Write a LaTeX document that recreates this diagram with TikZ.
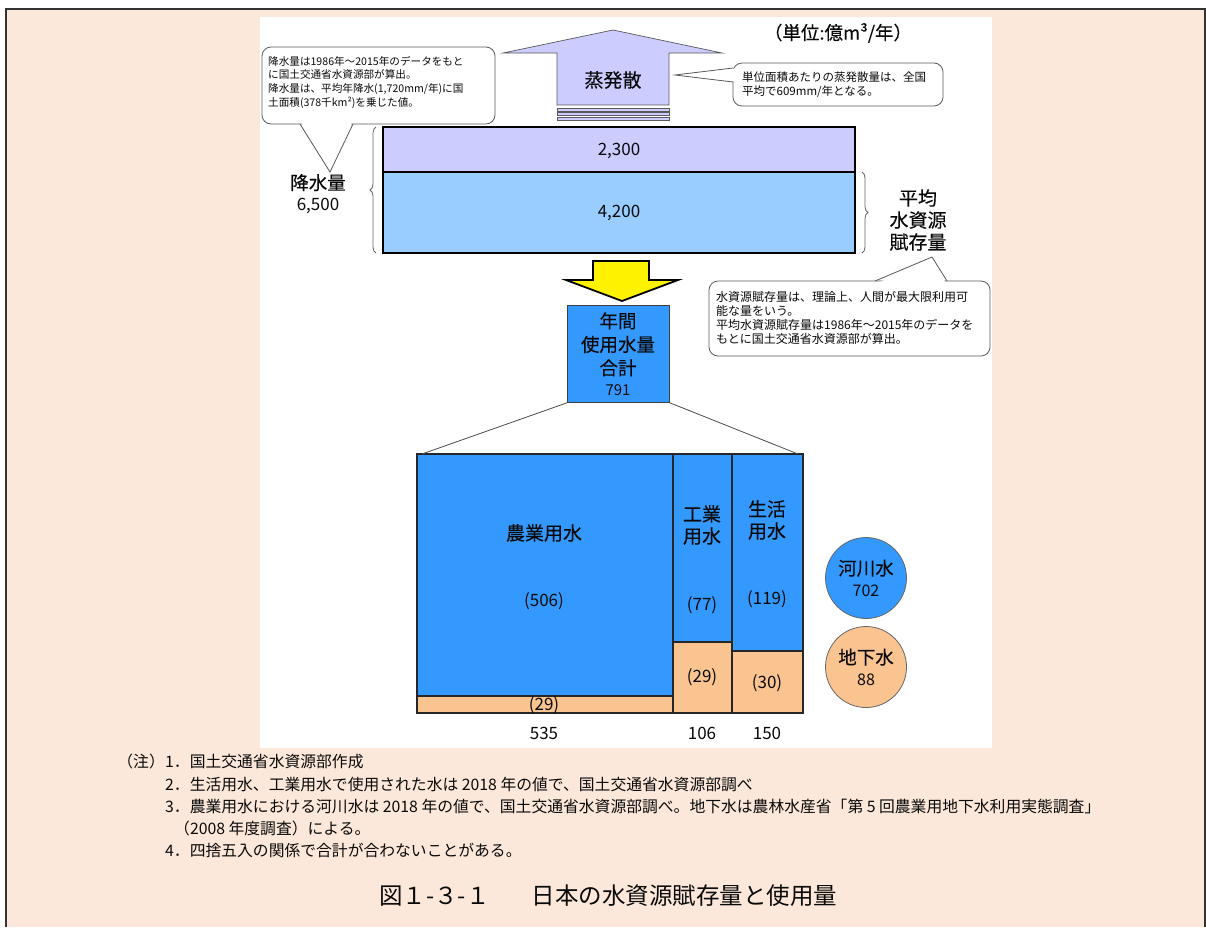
\documentclass[tikz,border=0pt]{standalone}
\usepackage{fontspec}
\setmainfont{Noto Sans CJK JP}
\newfontfamily\medfont{Noto Sans CJK JP}[FakeBold=0.25]
\usetikzlibrary{decorations.pathreplacing}
\definecolor{bgpeach}{RGB}{252,232,218}
\definecolor{lav}{RGB}{204,204,255}
\definecolor{lblue}{RGB}{153,204,255}
\definecolor{blueb}{RGB}{51,153,255}
\definecolor{orangeb}{RGB}{250,196,145}
\definecolor{callgray}{RGB}{90,90,90}
\definecolor{txt}{RGB}{10,10,10}
\begin{document}
\begin{tikzpicture}[x=1pt,y=-1pt,
  lbl/.style={font=\medfont\fontsize{19}{22}\selectfont, align=center, inner sep=0, text=txt},
  num/.style={font=\fontsize{17}{20}\selectfont, inner sep=0, text=txt},
  callout/.style={draw=callgray, fill=white, line width=0.8pt, rounded corners=9pt},
  calltext/.style={font=\fontsize{10.6}{13.7}\selectfont, align=left, anchor=north west, inner sep=0, text=txt},
  barline/.style={draw=black!85, line width=1.2pt},
  note/.style={font=\fontsize{15.8}{18}\selectfont, anchor=base west, inner sep=0, text=txt},
  bracestyle/.style={draw=gray!80!black, line width=0.8pt, decorate, decoration={brace, amplitude=6pt}},
  funnel/.style={draw=gray!60!black, line width=0.8pt}]
\useasboundingbox (0,0) rectangle (1206,927);
\fill[white] (0,0) rectangle (1206,927);
\fill[bgpeach] (6,9) rectangle (1205,927);
\draw[line width=1.5pt, black!80] (6,927) -- (6,9) -- (1205,9) -- (1205,927);
\fill[white] (260,17) rectangle (992,748);

% unit
\node[font=\medfont\fontsize{18.5}{21}\selectfont, inner sep=0, text=txt] (unit) at (838,33) {（単位:億m³/年）};

% evaporation arrow
\draw[fill=lav, draw=gray!70!black, line width=0.7pt] (613,30) -- (722,53) -- (669,53) -- (669,105) -- (557,105) -- (557,53) -- (503,53) -- cycle;
\foreach \yy in {108,112.5,117}{
  \draw[fill=lav, draw=gray!70!black, line width=0.6pt] (557,\yy) rectangle (669,\yy+3);
}
\node[lbl] (evap) at (613,80) {蒸発散};

% left callout
\draw[callout] (262,47) rectangle (495,124);
\fill[white] (300.5,121) -- (330,171) -- (352.5,121) -- cycle;
\draw[draw=callgray, line width=0.8pt] (300,124) -- (330,172) -- (353,124);
\node[calltext] (c1) at (268,56) {降水量は1986年～2015年のデータをもと\\に国土交通省水資源部が算出。\\降水量は、平均年降水(1,720mm/年)に国\\土面積(378千km²)を乗じた値。};

% right evap callout
\draw[callout] (733,63) rectangle (943,106);
\fill[white] (736,68.5) -- (675,75) -- (736,81.5) -- cycle;
\draw[draw=callgray, line width=0.8pt] (733,68) -- (675,75) -- (733,82);
\node[calltext, font=\fontsize{11.5}{13.5}\selectfont] (c2) at (742,72) {単位面積あたりの蒸発散量は、全国\\平均で609mm/年となる。};

% top bars
\draw[line width=1.8pt, fill=lav] (383,127) rectangle (855,172);
\draw[line width=1.8pt, fill=lblue] (383,172) rectangle (855,253);
\node[num] (t2300) at (619,151) {2,300};
\node[num] (t4200) at (619,213) {4,200};

% braces
\draw[bracestyle] (376,253) -- (376,127);
\draw[bracestyle] (862,172) -- (862,253);
\node[lbl, font=\medfont\fontsize{18.5}{21}\selectfont] (kousui) at (318,194) {降水量\\{\normalfont\fontsize{17}{20}\selectfont 6,500}};
\node[lbl] (fuzon) at (918,220) {平均\\水資源\\賦存量};

% middle callout
\draw[callout] (709,281) rectangle (990,356);
\fill[white] (876,284) -- (932,257) -- (946,284) -- cycle;
\draw[draw=callgray, line width=0.8pt] (875,281) -- (932,257) -- (947,281);
\node[calltext, font=\fontsize{12}{14}\selectfont] (c3) at (716,291) {水資源賦存量は、理論上、人間が最大限利用可\\能な量をいう。\\平均水資源賦存量は1986年～2015年のデータを\\もとに国土交通省水資源部が算出。};

% yellow arrow
\draw[fill=yellow, line width=1.8pt, line join=miter] (593,261) -- (649,261) -- (649,280) -- (678,280) -- (622,301) -- (566,280) -- (593,280) -- cycle;

% total box
\node[draw=black!75, line width=0.8pt, fill=blueb, minimum width=102pt, minimum height=97pt, anchor=north west, inner sep=0] (total) at (567,305) {};
\node[lbl, font=\medfont\fontsize{18.5}{23.5}\selectfont] (totaltxt) at (618,354) {年間\\使用水量\\合計\\[-3pt]{\normalfont\fontsize{15}{17}\selectfont 791}};

% bottom bars
\draw[barline, fill=blueb] (417,454) rectangle (673,696);
\draw[barline, fill=orangeb] (417,696) rectangle (673,713);
\draw[barline, fill=blueb] (673,454) rectangle (732,642);
\draw[barline, fill=orangeb] (673,642) rectangle (732,713);
\draw[barline, fill=blueb] (732,454) rectangle (803,651);
\draw[barline, fill=orangeb] (732,651) rectangle (803,713);
\coordinate (fl) at (422,454);
\coordinate (fr) at (798,454);
\draw[funnel] (total.south west) -- (fl);
\draw[funnel] (total.south east) -- (fr);

\node[lbl] (agri) at (544,533) {農業用水};
\node[num] (agri1) at (544,601) {(506)};
\node[num] (agri2) at (544,705) {(29)};
\node[lbl] (ind) at (702,525) {工業\\用水};
\node[num] (ind1) at (702,605) {(77)};
\node[num] (ind2) at (702,677) {(29)};
\node[lbl] (dom) at (767,520) {生活\\用水};
\node[num] (dom1) at (767,599) {(119)};
\node[num] (dom2) at (767,683) {(30)};
\node[num] (s1) at (544,733) {535};
\node[num] (s2) at (702,733) {106};
\node[num] (s3) at (767,733) {150};

% circles
\node[circle, draw=black!60, line width=0.8pt, fill=blueb, minimum size=81pt, inner sep=0, align=center, font=\medfont\fontsize{18.5}{21}\selectfont, text=txt] (river) at (866,578) {河川水\\{\normalfont\fontsize{16}{18}\selectfont 702}};
\node[circle, draw=black!60, line width=0.8pt, fill=orangeb, minimum size=81pt, inner sep=0, align=center, font=\medfont\fontsize{18.5}{21}\selectfont, text=txt] (ground) at (866,667) {地下水\\{\normalfont\fontsize{16}{18}\selectfont 88}};

% notes
\node[note, anchor=base east] (chu) at (165,767) {（注）};
\node[note] (n1) at (165,767) {1．国土交通省水資源部作成};
\node[note] (n2) at (165,790) {2．生活用水、工業用水で使用された水は 2018 年の値で、国土交通省水資源部調べ};
\node[note] (n3) at (165,812) {3．農業用水における河川水は 2018 年の値で、国土交通省水資源部調べ。地下水は農林水産省「第 5 回農業用地下水利用実態調査」};
\node[note] (n3b) at (174,834) {（2008 年度調査）による。};
\node[note] (n4) at (165,856) {4．四捨五入の関係で合計が合わないことがある。};

% caption
\node[font=\fontsize{23.5}{26}\selectfont, anchor=base west, inner sep=0, text=txt] (cap) at (379,904) {図１-３-１\hspace{42pt}日本の水資源賦存量と使用量};
\end{tikzpicture}
\end{document}
